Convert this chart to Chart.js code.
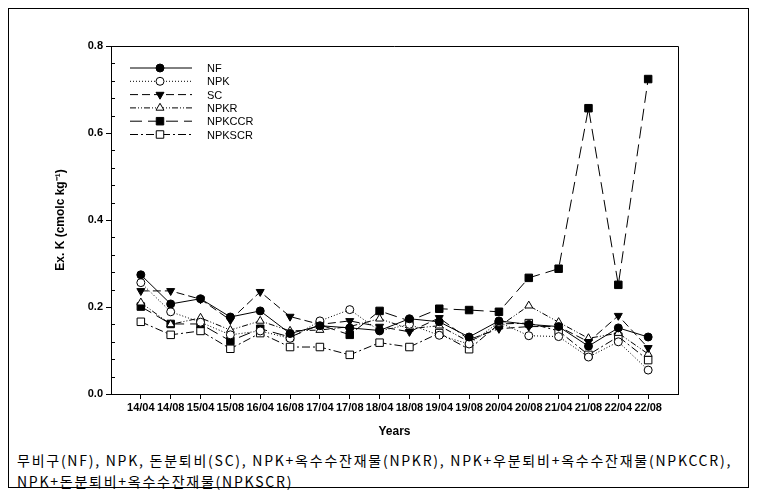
<!DOCTYPE html>
<html>
<head>
<meta charset="utf-8">
<script src="https://cdn.jsdelivr.net/npm/chart.js@4"></script>
<style>
  body { margin: 0; background: #fff; width: 758px; height: 491px; position: relative; overflow: hidden; }
  #frame { position: absolute; left: 8px; top: 8px; width: 741px; height: 480px; border: 1px solid #000; box-sizing: border-box; }
  #wrap { position: absolute; left: 0; top: 0; width: 758px; height: 440px; }
  #caption { position: absolute; left: 17px; top: 450px; font-family: "Noto Sans CJK KR"; font-size: 14px; line-height: 21px; letter-spacing: 1.75px; color: #000; white-space: nowrap; }
</style>
</head>
<body>
<div id="frame"></div>
<div id="wrap"><canvas id="chart" width="758" height="440"></canvas></div>
<div id="caption">무비구(NF), NPK, 돈분퇴비(SC), NPK+옥수수잔재물(NPKR), NPK+우분퇴비+옥수수잔재물(NPKCCR),<br>NPK+돈분퇴비+옥수수잔재물(NPKSCR)</div>
<script>
const labels = ["14/04", "14/08", "15/04", "15/08", "16/04", "16/08", "17/04", "17/08", "18/04",
  "18/08", "19/04", "19/08", "20/04", "20/08", "21/04", "21/08", "22/04", "22/08"];

const nf = [0.274, 0.207, 0.219, 0.177, 0.191, 0.139, 0.157, 0.152, 0.146, 0.173, 0.166, 0.131, 0.168, 0.160, 0.155, 0.110, 0.152, 0.131];
const npk = [0.256, 0.189, 0.165, 0.136, 0.145, 0.128, 0.168, 0.194, 0.145, 0.160, 0.135, 0.115, 0.165, 0.134, 0.132, 0.085, 0.120, 0.055];
const sc = [0.237, 0.237, 0.218, 0.170, 0.235, 0.178, 0.160, 0.168, 0.155, 0.143, 0.175, 0.125, 0.150, 0.155, 0.155, 0.120, 0.180, 0.106];
const npkr = [0.210, 0.160, 0.175, 0.147, 0.168, 0.145, 0.147, 0.155, 0.173, 0.150, 0.157, 0.120, 0.155, 0.203, 0.165, 0.128, 0.140, 0.092];
const npkccr = [0.201, 0.161, 0.161, 0.122, 0.150, 0.131, 0.159, 0.136, 0.191, 0.168, 0.196, 0.193, 0.189, 0.267, 0.288, 0.657, 0.251, 0.724];
const npkscr = [0.166, 0.136, 0.145, 0.104, 0.140, 0.108, 0.108, 0.090, 0.118, 0.108, 0.140, 0.103, 0.161, 0.163, 0.145, 0.090, 0.132, 0.078];

const yTicks = [0, 0.2, 0.4, 0.6, 0.8];

function pts(arr) {
  return arr.map((v, i) => ({ x: i, y: v }));
}

function series(name, arr, dash, style, filled, rot) {
  return {
    label: name,
    data: pts(arr),
    borderColor: "#000",
    borderWidth: 1,
    borderDash: dash,
    backgroundColor: filled ? "#000" : "#fff",
    pointStyle: style,
    pointRadius: style === "rect" ? 5.3 : (style === "triangle" ? 4.6 : 4),
    pointRotation: rot || 0,
    pointBorderColor: "#000",
    pointBackgroundColor: filled ? "#000" : "#fff",
    pointBorderWidth: 1,
    tension: 0
  };
}

const datasets = [
  series("NF", nf, [], "circle", true),
  series("NPK", npk, [1, 2], "circle", false),
  series("SC", sc, [8, 4], "triangle", true, 180),
  series("NPKR", npkr, [6, 2, 1, 2, 1, 2], "triangle", false),
  series("NPKCCR", npkccr, [12, 6], "rect", true),
  series("NPKSCR", npkscr, [8, 3, 2, 3], "rect", false)
];

// frame, inward minor ticks, legend
const extras = {
  id: "extras",
  afterDraw(chart) {
    const ctx = chart.ctx;
    const a = chart.chartArea;
    const y = chart.scales.y;
    ctx.save();
    ctx.strokeStyle = "#000";
    ctx.lineWidth = 1;
    ctx.beginPath();
    ctx.moveTo(a.left, a.top + 0.5);
    ctx.lineTo(a.right + 0.5, a.top + 0.5);
    ctx.lineTo(a.right + 0.5, a.bottom);
    ctx.stroke();
    for (let k = 1; k < 20; k++) {
      if (k % 5 === 0) continue;
      const py = Math.round(y.getPixelForValue(k * 0.04)) + 0.5;
      ctx.beginPath();
      ctx.moveTo(a.left, py);
      ctx.lineTo(a.left + 4, py);
      ctx.stroke();
    }
    // legend
    ctx.font = "11px 'Liberation Sans', Arial, sans-serif";
    ctx.textBaseline = "middle";
    ctx.textAlign = "left";
    chart.data.datasets.forEach((ds, i) => {
      const ly = 68 + i * 13.3;
      ctx.setLineDash(ds.borderDash);
      ctx.beginPath();
      ctx.moveTo(130, ly);
      ctx.lineTo(192, ly);
      ctx.stroke();
      ctx.setLineDash([]);
      ctx.fillStyle = ds.pointBackgroundColor;
      Chart.helpers.drawPoint(ctx, {
        pointStyle: ds.pointStyle,
        radius: ds.pointRadius,
        rotation: ds.pointRotation,
        borderWidth: 1
      }, 160, ly);
      ctx.fillStyle = "#000";
      ctx.fillText(ds.label, 207, ly + 1);
    });
    ctx.restore();
  }
};

new Chart(document.getElementById("chart"), {
  type: "line",
  data: { datasets: datasets },
  options: {
    responsive: false,
    animation: false,
    layout: { padding: { left: 0, top: 46, right: 80, bottom: 0 } },
    plugins: { legend: { display: false }, tooltip: { enabled: false } },
    scales: {
      x: {
        type: "linear",
        min: -1,
        max: 18,
        afterBuildTicks: (s) => { s.ticks = labels.map((l, i) => ({ value: i })); },
        afterFit: (s) => { s.height = 46; },
        ticks: {
          autoSkip: false,
          maxRotation: 0,
          padding: 2,
          color: "#000",
          font: { family: "'Liberation Sans', Arial", size: 11, weight: "bold" },
          callback: (v) => labels[v]
        },
        grid: { drawOnChartArea: false, tickLength: 5, color: "#000" },
        border: { color: "#000", width: 1 },
        title: {
          display: true,
          text: "Years",
          color: "#000",
          padding: { top: 0, bottom: 1 },
          font: { family: "'Liberation Sans', Arial", size: 12, weight: "bold" }
        }
      },
      y: {
        min: 0,
        max: 0.8,
        afterBuildTicks: (s) => { s.ticks = yTicks.map((v) => ({ value: v })); },
        afterFit: (s) => { s.width = 111; },
        ticks: {
          padding: 3,
          color: "#000",
          font: { family: "'Liberation Sans', Arial", size: 11, weight: "bold" },
          callback: (v) => v.toFixed(1)
        },
        grid: { drawOnChartArea: false, tickLength: 5, color: "#000" },
        border: { color: "#000", width: 1 },
        title: {
          display: true,
          text: "Ex. K (cmolc kg⁻¹)",
          color: "#000",
          padding: { top: 53, bottom: 0 },
          font: { family: "'Liberation Sans', Arial", size: 12, weight: "bold" }
        }
      }
    }
  },
  plugins: [extras]
});
</script>
</body>
</html>
